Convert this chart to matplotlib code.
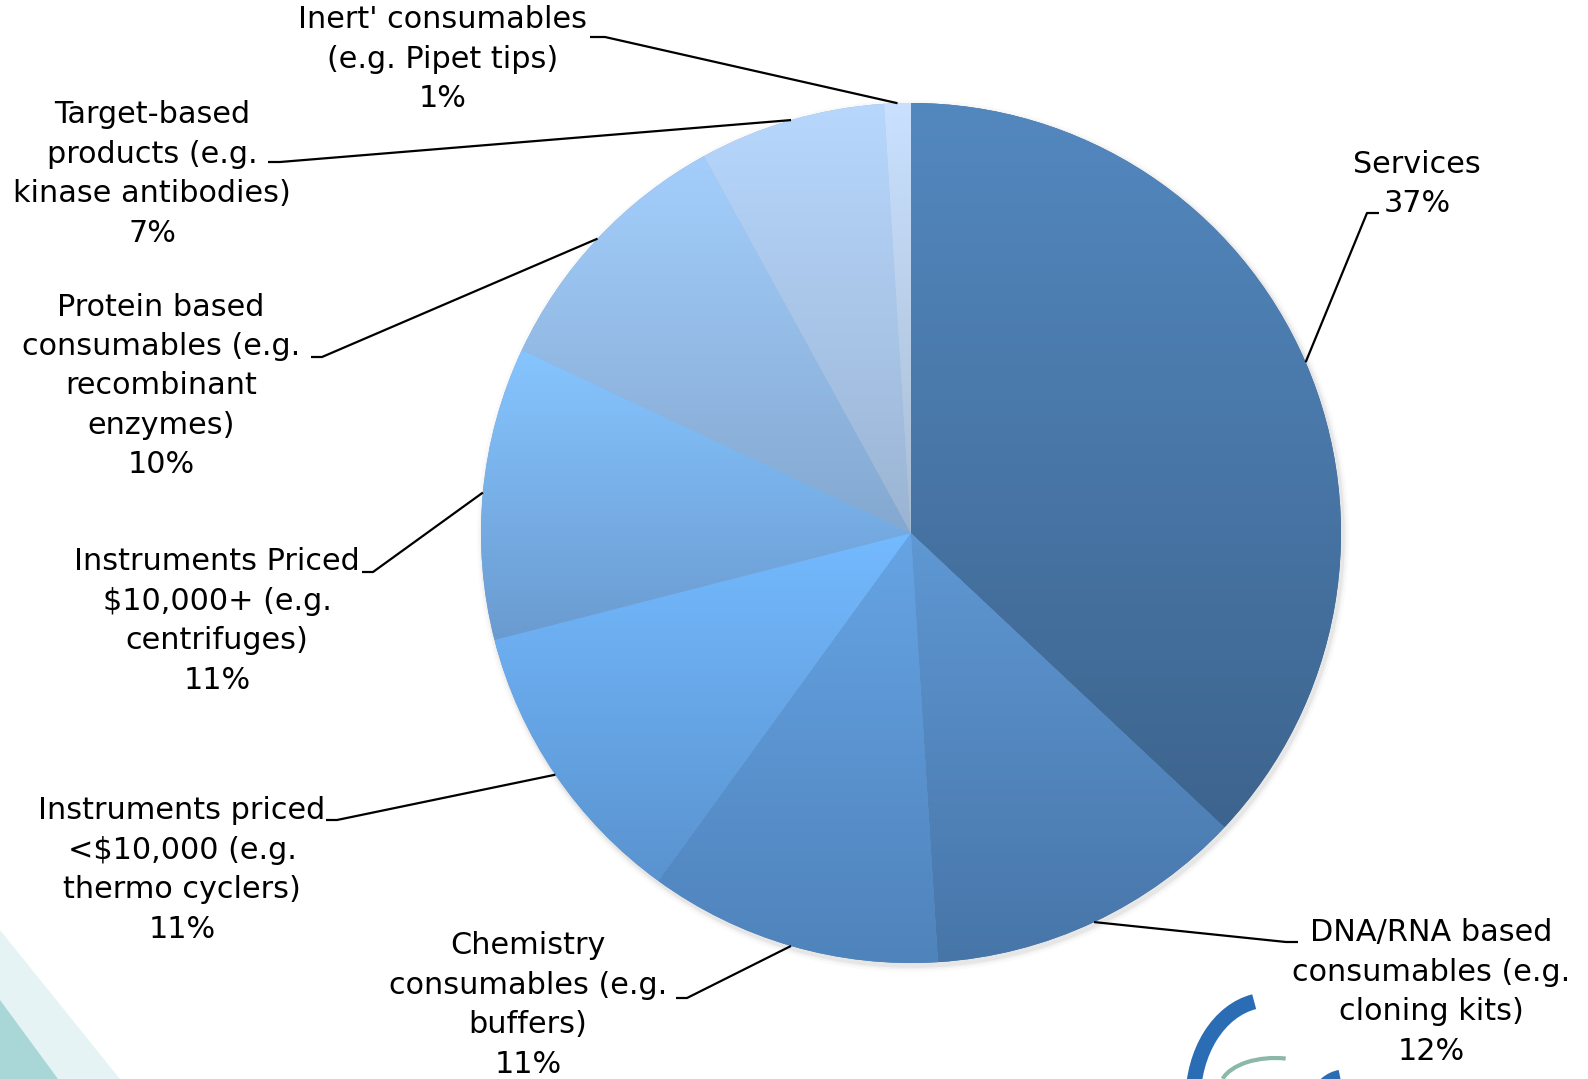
import numpy as np
import matplotlib.pyplot as plt
from matplotlib.patches import Circle, Polygon, Arc
from matplotlib.colors import to_rgb

# market share by product segment
labels = [
    "Services",
    "DNA/RNA based\nconsumables (e.g.\ncloning kits)",
    "Chemistry\nconsumables (e.g.\nbuffers)",
    "Instruments priced\n<\\$10,000 (e.g.\nthermo cyclers)",
    "Instruments Priced\n\\$10,000+ (e.g.\ncentrifuges)",
    "Protein based\nconsumables (e.g.\nrecombinant\nenzymes)",
    "Target-based\nproducts (e.g.\nkinase antibodies)",
    "Inert' consumables\n(e.g. Pipet tips)",
]
shares = [37, 12, 11, 11, 11, 10, 7, 1]

# vertical gradient per slice, top -> bottom
top_colors = ["#5388bf", "#5f98d4", "#66a4e5", "#74baff", "#86c5ff", "#a3cefc", "#b7d7fd", "#c9e1ff"]
bottom_colors = ["#3d648e", "#4775a8", "#4f83bb", "#5a93cf", "#6a9bd0", "#84a8d0", "#9bb4d3", "#a9bcd3"]

# label block centres and where each leader line leaves the text
label_xy = [(1417, 184), (1431, 992), (528, 1005), (182, 870),
            (217, 621), (161, 386), (152, 174), (443, 59)]
leader_start = [(1379, 213), (1298, 942), (676, 998), (326, 820),
                (362, 572), (311, 357), (268, 162), (590, 37)]
leader_elbow = [(1367, 213), (1286, 942), (687, 998), (337, 820),
                (373, 572), (322, 357), (280, 162), (605, 37)]

W, H = 1588, 1079
cx, cy, R = 911, 533, 430

plt.rcParams['font.family'] = ['DejaVu Sans']

fig = plt.figure(figsize=(W / 100, H / 100), dpi=100)
ax = fig.add_axes([0, 0, 1, 1])

# teal corner in the background, bottom left
ax.add_patch(Polygon([(0, 930), (0, H), (120, H)], closed=True,
                     facecolor="#cfe9ea", edgecolor="none", alpha=0.5, zorder=0))
ax.add_patch(Polygon([(0, 1000), (0, H), (58, H)], closed=True,
                     facecolor="#a9d6d7", edgecolor="none", zorder=0))

# logo fragment, bottom right
ax.add_patch(Arc((1268, 1100), 150, 200, theta1=180, theta2=262,
                 color="#2a6db5", lw=11, zorder=1))
ax.add_patch(Arc((1275, 1088), 110, 60, theta1=190, theta2=290,
                 color="#8cb8a8", lw=3, zorder=1))
ax.add_patch(Arc((1345, 1105), 60, 60, theta1=200, theta2=260,
                 color="#2a6db5", lw=8, zorder=1))

# soft shadow under the pie
for k, a in [(10, 0.04), (6, 0.06), (3, 0.10)]:
    ax.add_patch(Circle((cx + 2, cy + 3), R + k * 0.6, facecolor="#808080",
                        edgecolor="none", alpha=a, zorder=1))

wedges, _ = ax.pie(shares, center=(cx, cy), radius=R, startangle=-90,
                   counterclock=True, frame=True,
                   wedgeprops=dict(edgecolor="none", linewidth=0))

for i, w in enumerate(wedges):
    w.set_facecolor(bottom_colors[i])
    w.set_zorder(2)
    ext = w.get_path().get_extents()
    t = np.linspace(0, 1, 256)[:, None, None]
    c0 = np.array(to_rgb(top_colors[i]))
    c1 = np.array(to_rgb(bottom_colors[i]))
    grad = c0 * (1 - t) + c1 * t
    im = ax.imshow(grad, extent=(ext.x0, ext.x1, ext.y1, ext.y0),
                   origin="upper", aspect="auto", interpolation="bilinear", zorder=3)
    im.set_clip_path(w)

# leader lines and labels
cum = np.cumsum([0] + shares[:-1])
for i, v in enumerate(shares):
    theta = np.deg2rad(-90 + 360 * (cum[i] + v / 2) / sum(shares))
    px, py = cx + R * np.cos(theta), cy + R * np.sin(theta)
    xs = [leader_start[i][0], leader_elbow[i][0], px]
    ys = [leader_start[i][1], leader_elbow[i][1], py]
    ax.plot(xs, ys, color="black", lw=1.6, zorder=5, solid_capstyle="butt")
    ax.text(label_xy[i][0], label_xy[i][1], f"{labels[i]}\n{v}%",
            ha="center", va="center", fontsize=21.8, linespacing=1.45,
            color="black", zorder=6)

ax.set_xlim(0, W)
ax.set_ylim(H, 0)
ax.set_aspect("equal")
ax.axis("off")

fig.savefig("out.png", dpi=100, facecolor="white")
